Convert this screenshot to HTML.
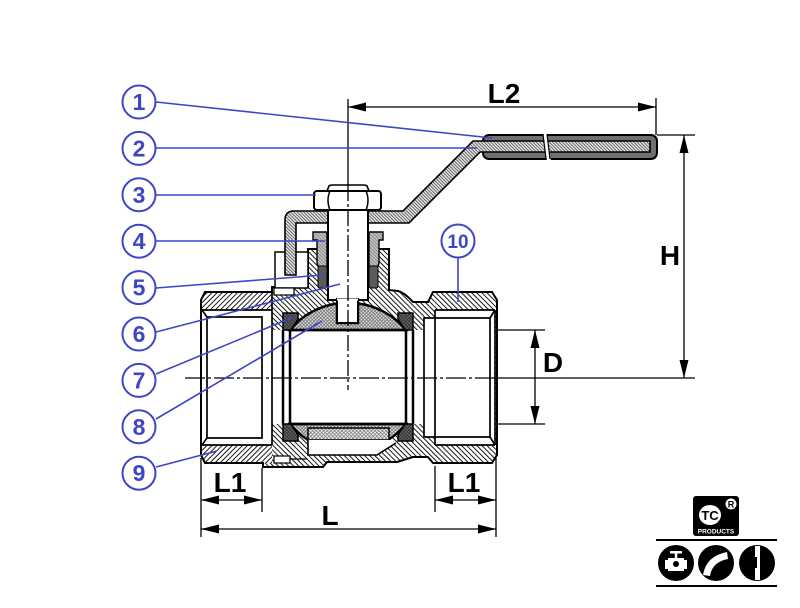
<!DOCTYPE html>
<html><head><meta charset="utf-8">
<style>
html,body{margin:0;padding:0;background:#fff;}
svg{display:block;}
</style></head><body>
<svg width="800" height="608" viewBox="0 0 800 608" xmlns="http://www.w3.org/2000/svg" font-family="'Liberation Sans', sans-serif">
<defs>
<pattern id="hb" width="3.6" height="3.6" patternUnits="userSpaceOnUse" patternTransform="rotate(-45)">
<rect width="3.6" height="3.6" fill="#fff"/><line x1="0.5" y1="0" x2="0.5" y2="3.6" stroke="#000" stroke-width="0.9"/></pattern>
<pattern id="ha" width="3.6" height="3.6" patternUnits="userSpaceOnUse" patternTransform="rotate(45)">
<rect width="3.6" height="3.6" fill="#fff"/><line x1="0.5" y1="0" x2="0.5" y2="3.6" stroke="#000" stroke-width="0.9"/></pattern>
<pattern id="hf" width="2.3" height="2.3" patternUnits="userSpaceOnUse" patternTransform="rotate(-45)">
<rect width="2.3" height="2.3" fill="#e8e8e8"/><line x1="0.4" y1="0" x2="0.4" y2="2.3" stroke="#333" stroke-width="0.7"/></pattern>
<pattern id="cross" width="2.4" height="2.4" patternUnits="userSpaceOnUse" patternTransform="rotate(45)">
<rect width="2.4" height="2.4" fill="#e4e4e4"/><line x1="0.4" y1="0" x2="0.4" y2="2.4" stroke="#555" stroke-width="0.6"/><line x1="0" y1="0.4" x2="2.4" y2="0.4" stroke="#555" stroke-width="0.6"/></pattern>
<pattern id="cross2" width="2.6" height="2.6" patternUnits="userSpaceOnUse" patternTransform="rotate(45)">
<rect width="2.6" height="2.6" fill="#eee"/><line x1="0.4" y1="0" x2="0.4" y2="2.6" stroke="#666" stroke-width="0.6"/><line x1="0" y1="0.4" x2="2.6" y2="0.4" stroke="#666" stroke-width="0.6"/></pattern>
<pattern id="seat" width="2.4" height="2.4" patternUnits="userSpaceOnUse" patternTransform="rotate(45)">
<rect width="2.4" height="2.4" fill="#6a6a6a"/><line x1="0.4" y1="0" x2="0.4" y2="2.4" stroke="#222" stroke-width="0.6"/><line x1="0" y1="0.4" x2="2.4" y2="0.4" stroke="#222" stroke-width="0.6"/></pattern>
<pattern id="gl" width="2.4" height="2.4" patternUnits="userSpaceOnUse" patternTransform="rotate(-45)">
<rect width="2.4" height="2.4" fill="#c4c4c4"/><line x1="0.4" y1="0" x2="0.4" y2="2.4" stroke="#666" stroke-width="0.6"/></pattern>
</defs>

<!-- ===== Dimensions ===== -->
<g stroke="#000" stroke-width="1.3" fill="none">
<path d="M348,107 L656,107 M656,98 L656,135"/>
<path d="M657,135 L695,135 M684,135 L684,378"/>
<path d="M272,330 L545,330 M272,424 L545,424 M535,330 L535,424"/>
<path d="M201,500 L262,500 M435,500 L496,500 M201,529 L496,529"/>
<path d="M201,458 L201,537 M262,468 L262,512 M435,466 L435,512 M496,458 L496,537"/>
<path d="M497,378 L695,378"/>
</g>
<g fill="#000">
<polygon points="348,107 366,102.5 366,111.5"/>
<polygon points="656,107 638,102.5 638,111.5"/>
<polygon points="684,135 679.5,153 688.5,153"/>
<polygon points="684,378 679.5,360 688.5,360"/>
<polygon points="535,330 530.5,348 539.5,348"/>
<polygon points="535,424 530.5,406 539.5,406"/>
<polygon points="201,500 219,495.5 219,504.5"/>
<polygon points="262,500 244,495.5 244,504.5"/>
<polygon points="435,500 453,495.5 453,504.5"/>
<polygon points="496,500 478,495.5 478,504.5"/>
<polygon points="201,529 219,524.5 219,533.5"/>
<polygon points="496,529 478,524.5 478,533.5"/>
</g>
<g font-weight="bold" font-size="28" fill="#000" text-anchor="middle">
<text x="504" y="103">L2</text>
<text x="670" y="265">H</text>
<text x="553" y="372">D</text>
<text x="230" y="492">L1</text>
<text x="464" y="492">L1</text>
<text x="330" y="525">L</text>
</g>

<!-- ===== Body ===== -->
<path d="M272,287 L308,287 L308,249 L389,249 L389,290 L398,291 Q405,293 413,302 L428,302 L433,292 L492,292 L497,300 L497,455 L492,463 L433,463 L428,457 L413,457 L397,462 L327,462 L323,467 L263,467 L263,463 L272,463 Z" fill="url(#hb)"/>
<path d="M201,300 L205,292 L272,292 L272,310 L202,310 Z" fill="url(#ha)"/>
<path d="M201,455 L205,463 L272,463 L272,445 L202,445 Z" fill="url(#ha)"/>
<!-- passage whites -->
<rect x="272" y="330" width="152" height="94" fill="#fff"/>
<rect x="424" y="318" width="71" height="119" fill="#fff"/>
<rect x="435" y="310" width="60" height="135" fill="#fff"/>
<rect x="202" y="310" width="70" height="135" fill="#fff"/>

<!-- bore lines -->
<g stroke="#000" stroke-width="1.7" fill="none">
<path d="M202,310 L272,310 M202,445 L272,445 M207,317 L262,317 L262,438 L207,438 Z M202,310 L207,317 M202,445 L207,438 M272,287 L272,445 M263,463 L263,467"/>
<path d="M435,310 L495,310 M435,445 L495,445 M424,318 L490,318 L490,437 L424,437 Z M490,318 L495,310 M490,437 L495,445 M435,310 L435,445 M495,310 L495,445"/>
</g>

<!-- ball -->
<path d="M290,330 A74.5,74.5 0 0 1 337,303.5 L337,323 L358,323 L358,303.5 A74.5,74.5 0 0 1 406,330 Z" fill="url(#cross)" stroke="#000" stroke-width="2.5"/>
<path d="M290,424 A74.5,74.5 0 0 0 308,440 L388,440 A74.5,74.5 0 0 0 406,424 Z" fill="url(#cross)" stroke="#000" stroke-width="2.5"/>
<rect x="308" y="428" width="81" height="12" fill="url(#cross2)" stroke="#000" stroke-width="1.5"/>
<path d="M308,440 L308,455 L377,455 L396,443 L392,440 Z" fill="#fff"/>
<path d="M308,440 L308,455 L377,455 L396,443" fill="none" stroke="#000" stroke-width="1.6"/>
<path d="M290,330 L406,330 M290,424 L406,424" stroke="#000" stroke-width="2.5"/>
<path d="M283,330 L283,424 M290,330 L290,424 M406,330 L406,424 M413,330 L413,424" stroke="#000" stroke-width="2.5"/>

<!-- seats -->
<g fill="url(#seat)" stroke="#000" stroke-width="1.5">
<path d="M283,313 L298,313 L298,319 L291,330 L283,330 Z"/>
<path d="M413,313 L398,313 L398,319 L405,330 L413,330 Z"/>
<path d="M283,441 L298,441 L298,435 L291,424 L283,424 Z"/>
<path d="M413,441 L398,441 L398,435 L405,424 L413,424 Z"/>
</g>

<!-- small slots -->
<rect x="274" y="456" width="16" height="7" fill="#fff" stroke="#000" stroke-width="1.2"/>
<path d="M290,459 L307,459" stroke="#000" stroke-width="1.2"/>

<!-- outer outline -->
<path d="M201,300 L205,292 L272,292 L272,287 L308,287 L308,249 L389,249 L389,290 L398,291 Q405,293 413,302 L428,302 L433,292 L492,292 L497,300 L497,455 L492,463 L433,463 L428,457 L413,457 L397,462 L327,462 L323,467 L263,467 L263,463 L205,463 L201,455 Z" fill="none" stroke="#000" stroke-width="2"/>

<!-- stop bracket -->
<rect x="275" y="252" width="33" height="36" fill="#fff" stroke="#000" stroke-width="1.5"/>
<rect x="274" y="288" width="20" height="7" fill="#fff" stroke="#000" stroke-width="1.2"/>

<!-- handle -->
<rect x="483" y="135" width="174" height="24" rx="6" fill="#707070" stroke="#000" stroke-width="2"/>
<path d="M285,275 L285,220 Q285,211 294,211 L403,211 L473,141 L650,141 L650,152 L480,152 L409,223 L296,223 L296,275 Z" fill="url(#hf)" stroke="#000" stroke-width="1.6"/>
<polygon points="543,133 547,133 551,161 547,161" fill="#fff"/>
<path d="M543,134 L546,159 M547,134 L550,159" stroke="#000" stroke-width="1.2"/>

<!-- gland nut & packing -->
<path d="M313,232 L327,232 L327,268 L320,268 Q317,266 317,262 L317,240 L313,240 Z" fill="url(#gl)" stroke="#000" stroke-width="1.4"/>
<path d="M383,232 L369,232 L369,268 L376,268 Q379,266 379,262 L379,240 L383,240 Z" fill="url(#gl)" stroke="#000" stroke-width="1.4"/>
<rect x="318" y="266" width="9" height="22" rx="2" fill="#5a5a5a" stroke="#000" stroke-width="1"/>
<rect x="369" y="266" width="9" height="22" rx="2" fill="#5a5a5a" stroke="#000" stroke-width="1"/>

<!-- stem -->
<rect x="328" y="210" width="40" height="90" fill="#fff" stroke="#000" stroke-width="2"/>
<rect x="337" y="299" width="21" height="24" fill="#fff" stroke="#000" stroke-width="2"/>
<path d="M337,299.5 L358,299.5" stroke="#fff" stroke-width="2"/>

<!-- nut -->
<path d="M327,191 L329,186 Q330,185 332,185 L364,185 Q366,185 367,186 L369,191 Z" fill="#fff" stroke="#000" stroke-width="1.6"/>
<rect x="314" y="191" width="67" height="19" rx="3" fill="#fff" stroke="#000" stroke-width="2"/>
<path d="M330,191 Q326,200 330,210 M366,191 Q370,200 366,210" fill="none" stroke="#000" stroke-width="1.5"/>

<!-- centerlines -->
<path d="M348,99 L348,185" stroke="#000" stroke-width="1.3"/>
<path d="M348,185 L348,390" stroke="#000" stroke-width="1.3" stroke-dasharray="16 3 3 3"/>
<path d="M185,378 L497,378" stroke="#000" stroke-width="1.2" stroke-dasharray="20 3 3 3"/>

<!-- ===== Leaders ===== -->
<g stroke="#3e45c6" stroke-width="1.6" fill="none">
<path d="M156,102 L492,138"/>
<path d="M156,148 L477,148"/>
<path d="M156,195 L316,195"/>
<path d="M156,241 L325,241"/>
<path d="M156,288 L323,275"/>
<path d="M156,332 L340,284"/>
<path d="M156,374 L291,318"/>
<path d="M156,419 L322,321"/>
<path d="M156,467 L217,451"/>
<path d="M458,258 L458,302"/>
</g>
<g stroke="#3e45c6" stroke-width="2" fill="#fff">
<circle cx="139" cy="102" r="16.5"/>
<circle cx="139" cy="148.4" r="16.5"/>
<circle cx="139" cy="194.8" r="16.5"/>
<circle cx="139" cy="241.2" r="16.5"/>
<circle cx="139" cy="287.6" r="16.5"/>
<circle cx="139" cy="334" r="16.5"/>
<circle cx="139" cy="380.4" r="16.5"/>
<circle cx="139" cy="426.8" r="16.5"/>
<circle cx="139" cy="473.2" r="16.5"/>
<circle cx="458" cy="241" r="16.5"/>
</g>
<g fill="#3e45c6" font-weight="bold" font-size="23" text-anchor="middle">
<text x="139" y="110">1</text>
<text x="139" y="156.4">2</text>
<text x="139" y="202.8">3</text>
<text x="139" y="249.2">4</text>
<text x="139" y="295.6">5</text>
<text x="139" y="342">6</text>
<text x="139" y="388.4">7</text>
<text x="139" y="434.8">8</text>
<text x="139" y="481.2">9</text>
<text x="458" y="248" font-size="19">10</text>
</g>

<!-- ===== Logo ===== -->
<rect x="693" y="496" width="46" height="40" rx="3" fill="#000"/>
<ellipse cx="710" cy="515" rx="11" ry="10" fill="#fff"/>
<text x="710" y="520" font-size="13" font-weight="bold" text-anchor="middle" fill="#000">TC</text>
<circle cx="731" cy="504" r="6" fill="#fff" stroke="#000" stroke-width="1"/>
<text x="731" y="507.5" font-size="9" font-weight="bold" text-anchor="middle" fill="#000">R</text>
<text x="716" y="533.5" font-size="6.5" font-weight="bold" text-anchor="middle" fill="#fff">PRODUCTS</text>
<path d="M656,540 L777,540 M656,586 L777,586" stroke="#000" stroke-width="2"/>
<circle cx="676" cy="563" r="18" fill="#000"/>
<circle cx="716" cy="563" r="18" fill="#000"/>
<circle cx="757" cy="563" r="18" fill="#000"/>
<g fill="#fff">
<rect x="670" y="551" width="12" height="2.5"/>
<rect x="674.8" y="553" width="2.5" height="5"/>
<rect x="668" y="558" width="16" height="13"/>
<rect x="665" y="560" width="3" height="9"/>
<rect x="684" y="560" width="3" height="9"/>
</g>
<circle cx="676" cy="564" r="3" fill="#000"/>
<path d="M703,575 Q706,556 727,552 L728,559 Q712,562 710,576 Z" fill="#fff"/>
<rect x="755" y="546" width="5" height="34" fill="#fff"/>
<rect x="753" y="557" width="4" height="11" fill="#000"/>
</svg>
</body></html>
